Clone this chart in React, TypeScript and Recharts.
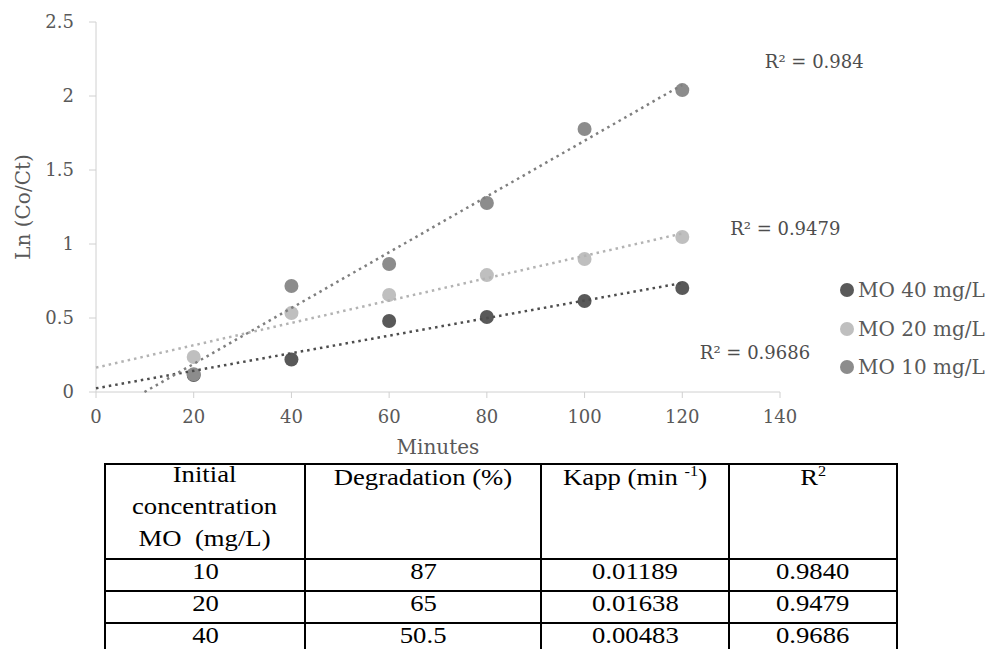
import { ScatterChart, Scatter, XAxis, YAxis, Legend, ReferenceDot, Label } from "recharts";

const minutes = [20, 40, 60, 80, 100, 120];
const mo40 = [0.115, 0.22, 0.48, 0.507, 0.615, 0.703];
const mo20 = [0.236, 0.533, 0.656, 0.79, 0.899, 1.047];
const mo10 = [0.12, 0.716, 0.865, 1.277, 1.777, 2.04];

const seriesNames = ["MO 40 mg/L", "MO 20 mg/L", "MO 10 mg/L"];
const seriesColors = ["#595959", "#bfbfbf", "#8c8c8c"];
const trendColors = ["#4d4d4d", "#b3b3b3", "#7f7f7f"];

const r2Text = ["R² = 0.9686", "R² = 0.9479", "R² = 0.984"];
const r2AtX = [123.6, 129.8, 136.9];
const r2AtY = [0.264, 1.108, 2.23];

const xTicks = [0, 20, 40, 60, 80, 100, 120, 140];
const yTicks = [0, 0.5, 1, 1.5, 2, 2.5];

const colConc = ["10", "20", "40"];
const colDeg = ["87", "65", "50.5"];
const colKapp = ["0.01189", "0.01638", "0.00483"];
const colR2 = ["0.9840", "0.9479", "0.9686"];

const chartFont = "'DejaVu Serif', serif";
const tableFont = "'Liberation Serif', 'Times New Roman', serif";

const allSeries = [mo40, mo20, mo10];

// least squares trendline, extended back to x = 0 and clipped at y = 0
function trend(ys: number[]) {
  const n = minutes.length;
  const mx = minutes.reduce((a, b) => a + b, 0) / n;
  const my = ys.reduce((a, b) => a + b, 0) / n;
  let sxy = 0;
  let sxx = 0;
  minutes.forEach((x, i) => {
    sxy += (x - mx) * (ys[i] - my);
    sxx += (x - mx) * (x - mx);
  });
  const m = sxy / sxx;
  const b = my - m * mx;
  const x0 = b < 0 ? -b / m : 0;
  const x1 = minutes[n - 1];
  return [
    { x: x0, y: m * x0 + b },
    { x: x1, y: m * x1 + b },
  ];
}

function LegendBox() {
  return (
    <div style={{ fontFamily: chartFont, fontSize: 20, color: "#595959", whiteSpace: "nowrap" }}>
      {seriesNames.map((name, i) => (
        <div key={name} style={{ height: 38.5, display: "flex", alignItems: "center" }}>
          <svg width={17} height={16} style={{ marginRight: 3 }}>
            <circle cx={9} cy={8} r={7} fill={seriesColors[i]} />
          </svg>
          <span>{name}</span>
        </div>
      ))}
    </div>
  );
}

const Cell = ({ children, style }: { children: React.ReactNode; style?: React.CSSProperties }) => (
  <td
    style={{
      border: "2px solid #000",
      textAlign: "center",
      padding: 0,
      lineHeight: "20px",
      ...style,
    }}
  >
    <span style={{ display: "inline-block", transform: "translateY(-3px) scaleX(1.16)" }}>{children}</span>
  </td>
);

const headStyle: React.CSSProperties = { verticalAlign: "top", lineHeight: "32px" };
const headInner: React.CSSProperties = { marginTop: -3, height: 86, overflow: "visible" };

export default function App() {
  return (
    <div
      style={{
        position: "absolute",
        left: 0,
        top: 0,
        width: 987,
        height: 649,
        overflow: "hidden",
        background: "#fff",
      }}
    >
      <ScatterChart width={987} height={470} margin={{ top: 22, right: 58, bottom: 38, left: 36 }}>
        <XAxis
          type="number"
          dataKey="x"
          domain={[0, 140]}
          ticks={xTicks}
          height={40}
          tickSize={6}
          tickMargin={12}
          axisLine={{ stroke: "#d0d0d0" }}
          tickLine={{ stroke: "#d0d0d0" }}
          tick={{ fill: "#595959", fontSize: 18, fontFamily: chartFont }}
        >
          <Label
            value="Minutes"
            position="bottom"
            offset={8}
            style={{ fill: "#595959", fontSize: 20, fontFamily: chartFont }}
          />
        </XAxis>
        <YAxis
          type="number"
          dataKey="y"
          domain={[0, 2.5]}
          ticks={yTicks}
          width={60}
          tickSize={7}
          tickMargin={15}
          axisLine={{ stroke: "#d0d0d0" }}
          tickLine={{ stroke: "#d0d0d0" }}
          tick={{ fill: "#595959", fontSize: 18, fontFamily: chartFont }}
        >
          <Label
            value="Ln (Co/Ct)"
            angle={-90}
            position="insideLeft"
            offset={-13}
            textAnchor="middle"
            style={{ fill: "#595959", fontSize: 20, fontFamily: chartFont }}
          />
        </YAxis>
        <Legend
          layout="vertical"
          align="right"
          verticalAlign="top"
          content={() => <LegendBox />}
          wrapperStyle={{ position: "absolute", left: 838, top: 271, width: 149 }}
        />
        {allSeries.map((ys, i) => (
          <Scatter
            key={seriesNames[i]}
            name={seriesNames[i]}
            data={minutes.map((x, j) => ({ x, y: ys[j] }))}
            fill={seriesColors[i]}
            isAnimationActive={false}
            shape={(p: any) => <circle cx={p.cx} cy={p.cy} r={7} fill={seriesColors[i]} />}
          />
        ))}
        {allSeries.map((ys, i) => (
          <Scatter
            key={"trend-" + seriesNames[i]}
            name={"trend " + seriesNames[i]}
            data={trend(ys)}
            legendType="none"
            isAnimationActive={false}
            line={{ stroke: trendColors[i], strokeWidth: 2.5, strokeDasharray: "2.5 4" }}
            shape={() => <g />}
          />
        ))}
        {r2Text.map((t, i) => (
          <ReferenceDot
            key={t}
            x={r2AtX[i]}
            y={r2AtY[i]}
            r={0}
            ifOverflow="visible"
            fill="none"
            stroke="none"
            label={(props: any) => (
              <text
                x={props.viewBox.x}
                y={props.viewBox.y}
                dominantBaseline="central"
                fill="#4d4d4d"
                fontSize={18}
                fontFamily={chartFont}
              >
                {t}
              </text>
            )}
          />
        ))}
      </ScatterChart>

      <table
        style={{
          position: "absolute",
          left: 104,
          top: 463,
          width: 792,
          borderCollapse: "collapse",
          tableLayout: "fixed",
          fontFamily: tableFont,
          fontSize: 23,
          color: "#000",
        }}
      >
        <colgroup>
          <col style={{ width: 200 }} />
          <col style={{ width: 236 }} />
          <col style={{ width: 188 }} />
          <col style={{ width: 168 }} />
        </colgroup>
        <tbody>
          <tr style={{ height: 93 }}>
            <Cell style={headStyle}>
              <div style={headInner}>
                Initial
                <br />
                concentration
                <br />
                MO&nbsp;&nbsp;(mg/L)
              </div>
            </Cell>
            <Cell style={headStyle}>
              <div style={headInner}>Degradation (%)</div>
            </Cell>
            <Cell style={headStyle}>
              <div style={headInner}>
                Kapp (min <sup style={{ fontSize: 14, verticalAlign: 9, lineHeight: 0 }}>-1</sup>)
              </div>
            </Cell>
            <Cell style={headStyle}>
              <div style={headInner}>
                R<sup style={{ fontSize: 14, verticalAlign: 9, lineHeight: 0 }}>2</sup>
              </div>
            </Cell>
          </tr>
          {colConc.map((c, i) => (
            <tr key={c} style={{ height: 32 }}>
              <Cell>{c}</Cell>
              <Cell>{colDeg[i]}</Cell>
              <Cell>{colKapp[i]}</Cell>
              <Cell>{colR2[i]}</Cell>
            </tr>
          ))}
        </tbody>
      </table>
    </div>
  );
}
